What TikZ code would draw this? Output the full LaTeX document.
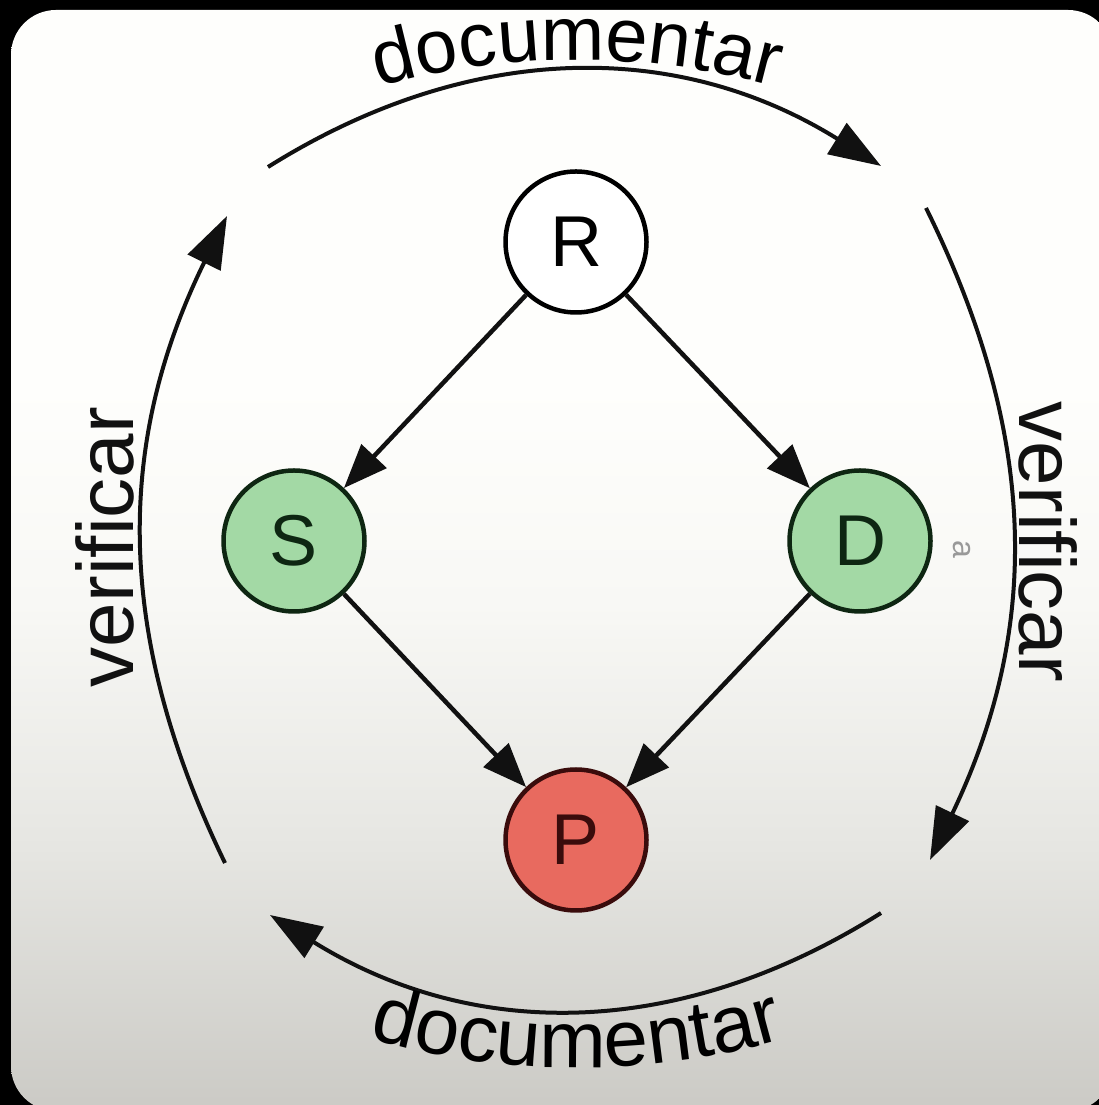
\documentclass[tikz,border=0pt]{standalone}
\usepackage{fontspec}
\setmainfont{Liberation Sans}
\usetikzlibrary{arrows.meta,decorations.text}
\definecolor{ptop}{HTML}{FEFEFC}
\definecolor{pmidA}{HTML}{F8F8F5}
\definecolor{pmidB}{HTML}{E6E6E2}
\definecolor{pbot}{HTML}{CBCAC5}
\definecolor{gfill}{HTML}{A3D9A5}
\definecolor{gborder}{HTML}{0E2612}
\definecolor{gtext}{HTML}{0E2612}
\definecolor{pfill}{HTML}{E86A5F}
\definecolor{pborder}{HTML}{3A0C0C}
\definecolor{ptext}{HTML}{3A0C0C}
\definecolor{inkc}{HTML}{111111}
\pgfdeclareverticalshading{panelshade}{100bp}{color(0bp)=(pbot); color(25bp)=(pbot); color(37bp)=(pmidB); color(48bp)=(pmidA); color(58bp)=(ptop); color(100bp)=(ptop)}
\newcommand\docfont{\fontsize{80}{80}\selectfont}
\newcommand\topdocfont{\fontsize{76}{76}\selectfont}
\begin{document}
\begin{tikzpicture}[x=1pt,y=1pt]
\tikzset{
  circ/.style={circle, minimum size=141pt, inner sep=0pt, line width=4.5pt, font=\fontsize{72}{72}\selectfont},
  rnode/.style={circ, draw=black, fill=white, text=black},
  gnode/.style={circ, draw=gborder, fill=gfill, text=gtext},
  pnode/.style={circ, draw=pborder, fill=pfill, text=ptext},
  linkarrow/.style={line width=4.5pt, draw=inkc, -{Triangle[length=44pt,width=34pt]}},
  cyclearr/.style={line width=4pt, draw=inkc, -{Triangle[length=52pt,width=36pt]}},
  lbl/.style={font=\docfont, text=inkc, inner sep=0pt},
  toptext/.style={decorate, decoration={text along path, text={|\topdocfont|documentar}, text align=center}},
  bottext/.style={decorate, decoration={text along path, text={|\docfont|documentar}, text align=center}}
}
% background and panel
\path[use as bounding box, fill=black] (0,0) rectangle (1099,1105);
\begin{scope}
  \clip (0,0) rectangle (1099,1105);
  \shade[shading=panelshade, rounded corners=45pt] (11,-6) rectangle (1113,1095);
\end{scope}

% nodes
\node[rnode] (R) at (576,863) {R};
\node[gnode] (S) at (294,564) {S};
\node[gnode] (D) at (860,564) {D};
\node[pnode] (P) at (576,265) {P};

% inner arrows
\draw[linkarrow] (R) -- (S);
\draw[linkarrow] (R) -- (D);
\draw[linkarrow] (S) -- (P);
\draw[linkarrow] (D) -- (P);

% outer cycle
\coordinate (a1) at (268,938);
\coordinate (a2) at (881,939);
\coordinate (b1) at (926,897);
\coordinate (b2) at (930,245);
\coordinate (c1) at (881,192);
\coordinate (c2) at (270,190);
\coordinate (d1) at (225,242);
\coordinate (d2) at (227,889);
\draw[cyclearr] (a1) to[bend left=32] (a2);
\draw[cyclearr] (b1) to[bend left=26] (b2);
\draw[cyclearr] (c1) to[bend left=32] (c2);
\draw[cyclearr] (d1) to[bend left=26] (d2);

% curved labels
\coordinate (ctop) at (577,295);
\coordinate (cbot) at (577,787);
\path[toptext] ([shift={(107:750pt)}]ctop) arc[start angle=107, end angle=73, radius=750pt];
\path[bottext] ([shift={(253:750pt)}]cbot) arc[start angle=253, end angle=287, radius=750pt];

% side labels
\node[lbl, rotate=90, anchor=base] (vl) at (133,558) {verificar};
\node[lbl, rotate=-90, anchor=base] (vr) at (1019,563) {verificar};

% faint stray mark
\node[font=\fontsize{32}{32}\selectfont, text=gray!80, rotate=-90, inner sep=0pt] (mark) at (962,556) {a};
\end{tikzpicture}
\end{document}
